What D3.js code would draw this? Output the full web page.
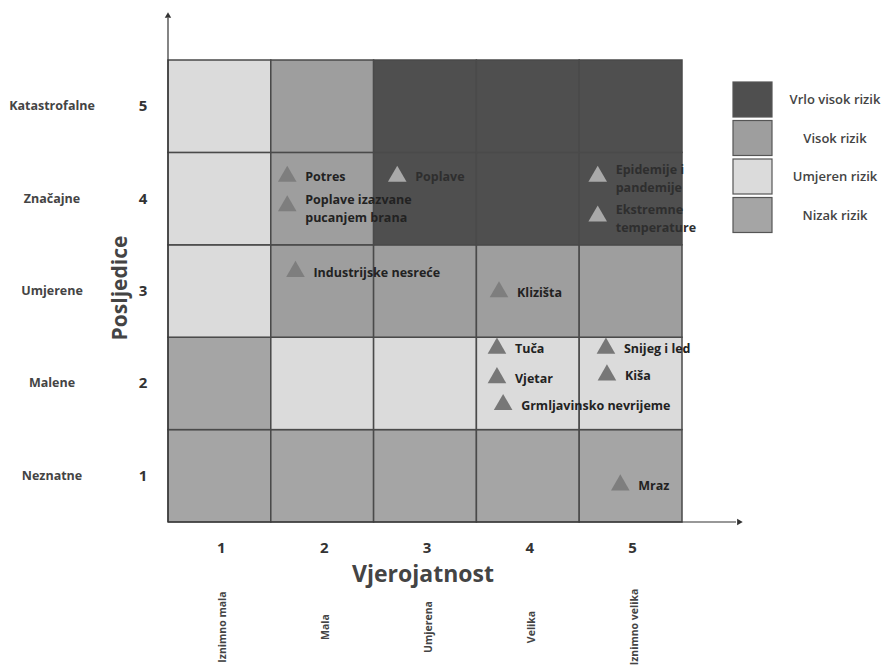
<!DOCTYPE html>
<html>
<head>
<meta charset="utf-8">
<script src="https://cdn.jsdelivr.net/npm/d3@7"></script>
<style>
  body { margin: 0; background: #fff; }
  text { font-family: "Open Sans", "Liberation Sans", sans-serif; }
</style>
</head>
<body>
<div id="chart-area"></div>
<script>
// data
const probabilities = [1, 2, 3, 4, 5];
const probLabels = ["Iznimno mala", "Mala", "Umjerena", "Velika", "Iznimno velika"];
const consequences = [1, 2, 3, 4, 5];
const consLabels = ["Neznatne", "Malene", "Umjerene", "Značajne", "Katastrofalne"];
const riskLevels = ["Vrlo visok rizik", "Visok rizik", "Umjeren rizik", "Nizak rizik"];
// rows = consequence 1..5, columns = probability 1..5, value = index in riskLevels
const riskGrid = [
    [3, 3, 3, 3, 3],
    [3, 2, 2, 2, 2],
    [2, 1, 1, 1, 1],
    [2, 1, 0, 0, 0],
    [2, 1, 0, 0, 0]
];
const hazardNames = [
    ["Potres"], ["Poplave"], ["Epidemije i", "pandemije"], ["Ekstremne", "temperature"],
    ["Poplave izazvane", "pucanjem brana"], ["Industrijske nesreće"], ["Klizišta"],
    ["Tuča"], ["Vjetar"], ["Grmljavinsko nevrijeme"], ["Snijeg i led"], ["Kiša"], ["Mraz"]
];
const hazardProb = [1.66, 2.73, 4.68, 4.68, 1.66, 1.74, 3.72, 3.70, 3.70, 3.76, 4.76, 4.77, 4.90];
const hazardCons = [4.24, 4.24, 4.24, 3.81, 3.92, 3.21, 2.99, 2.38, 2.06, 1.77, 2.38, 2.09, 0.90];

const riskColors = ["#4f4f4f", "#9e9e9e", "#dbdbdb", "#a5a5a5"];
const triColors = ["#a9a9a9", "#7e7e7e", "#777777", "#7e7e7e"];

const full_width = 885, full_height = 668;
const gLeft = 168, gRight = 682, gTop = 60, gBottom = 522;

const svg = d3.select("#chart-area").append("svg")
    .attr("width", full_width).attr("height", full_height);

const x = d3.scaleBand().domain(probabilities).range([gLeft, gRight]);
const y = d3.scaleBand().domain(consequences.slice().reverse()).range([gTop, gBottom]);
const xv = d3.scaleLinear().domain([0.5, 5.5]).range([gLeft, gRight]);
const yv = d3.scaleLinear().domain([0.5, 5.5]).range([gBottom, gTop]);

// cells
const cells = [];
riskGrid.forEach((row, i) => row.forEach((lvl, j) => cells.push({ c: consequences[i], p: probabilities[j], lvl: lvl })));

svg.selectAll("rect.cell").data(cells).enter()
    .append("rect")
    .attr("class", "cell")
    .attr("x", d => x(d.p))
    .attr("y", d => y(d.c))
    .attr("width", x.bandwidth())
    .attr("height", y.bandwidth())
    .attr("fill", d => riskColors[d.lvl])
    .attr("stroke", "#4a4a4a")
    .attr("stroke-width", 1.5);

// axes lines with arrows
svg.append("line").attr("x1", gLeft).attr("y1", gBottom).attr("x2", gLeft).attr("y2", 18)
    .attr("stroke", "#333").attr("stroke-width", 1.2);
svg.append("path").attr("d", d3.symbol(d3.symbolTriangle, 18)())
    .attr("transform", "translate(" + gLeft + ",16)").attr("fill", "#333");
svg.append("line").attr("x1", gLeft).attr("y1", gBottom).attr("x2", 736).attr("y2", gBottom)
    .attr("stroke", "#333").attr("stroke-width", 1.2);
svg.append("path").attr("d", d3.symbol(d3.symbolTriangle, 18)())
    .attr("transform", "translate(739," + gBottom + ") rotate(90)").attr("fill", "#333");

// y ticks
svg.selectAll("text.ytick").data(consequences).enter()
    .append("text")
    .attr("x", 143)
    .attr("y", d => y(d) + y.bandwidth() / 2 + 5)
    .attr("text-anchor", "middle")
    .attr("font-size", "15px").attr("font-weight", "bold").attr("fill", "#333")
    .text(d => d);
svg.selectAll("text.ycat").data(consequences).enter()
    .append("text")
    .attr("x", 52)
    .attr("y", d => y(d) + y.bandwidth() / 2 + 4)
    .attr("text-anchor", "middle")
    .attr("font-size", "12.5px").attr("font-weight", "bold").attr("fill", "#444")
    .text((d, i) => consLabels[i]);
svg.append("text")
    .attr("transform", "translate(127,288) rotate(-90)")
    .attr("text-anchor", "middle")
    .attr("font-size", "21px").attr("font-weight", "bold").attr("fill", "#444")
    .text("Posljedice");

// x ticks
svg.selectAll("text.xtick").data(probabilities).enter()
    .append("text")
    .attr("x", d => x(d) + x.bandwidth() / 2 + 2)
    .attr("y", 553)
    .attr("text-anchor", "middle")
    .attr("font-size", "15px").attr("font-weight", "bold").attr("fill", "#333")
    .text(d => d);
svg.append("text")
    .attr("x", 423).attr("y", 582)
    .attr("text-anchor", "middle")
    .attr("font-size", "23px").attr("font-weight", "bold").attr("fill", "#444")
    .text("Vjerojatnost");
svg.selectAll("text.xcat").data(probabilities).enter()
    .append("text")
    .attr("transform", d => "translate(" + (x(d) + x.bandwidth() / 2 + 7) + ",627) rotate(-90)")
    .attr("text-anchor", "middle")
    .attr("font-size", "10.5px").attr("font-weight", "bold").attr("fill", "#444")
    .text((d, i) => probLabels[i]);

// hazards
const levelAt = (p, c) => riskGrid[Math.round(c) - 1][Math.round(p) - 1];
const hz = svg.selectAll("g.hazard").data(hazardNames).enter()
    .append("g")
    .attr("class", "hazard")
    .attr("transform", (d, i) => "translate(" + xv(hazardProb[i]) + "," + yv(hazardCons[i]) + ")");
hz.append("path")
    .attr("d", d3.symbol(d3.symbolTriangle, 150)())
    .attr("fill", (d, i) => triColors[levelAt(hazardProb[i], hazardCons[i])]);
hz.append("text")
    .attr("x", 18)
    .attr("y", d => d.length > 1 ? -2 : 5)
    .attr("font-size", "12.5px").attr("font-weight", "bold")
    .attr("fill", (d, i) => levelAt(hazardProb[i], hazardCons[i]) === 0 ? "#2e2e2e" : "#222")
    .selectAll("tspan").data(d => d).enter()
    .append("tspan")
    .attr("x", 18)
    .attr("dy", (d, i) => i === 0 ? 0 : 18)
    .text(d => d);

// legend
const lg = svg.selectAll("g.legend").data(riskLevels).enter()
    .append("g")
    .attr("class", "legend")
    .attr("transform", (d, i) => "translate(733," + (82 + i * 38.5) + ")");
lg.append("rect")
    .attr("width", 39).attr("height", 35)
    .attr("fill", (d, i) => riskColors[i])
    .attr("stroke", "#555").attr("stroke-width", 1.2);
lg.append("text")
    .attr("x", 102).attr("y", 22)
    .attr("text-anchor", "middle")
    .attr("font-size", "13px").attr("font-weight", "600").attr("fill", "#444")
    .text(d => d);
</script>
</body>
</html>
